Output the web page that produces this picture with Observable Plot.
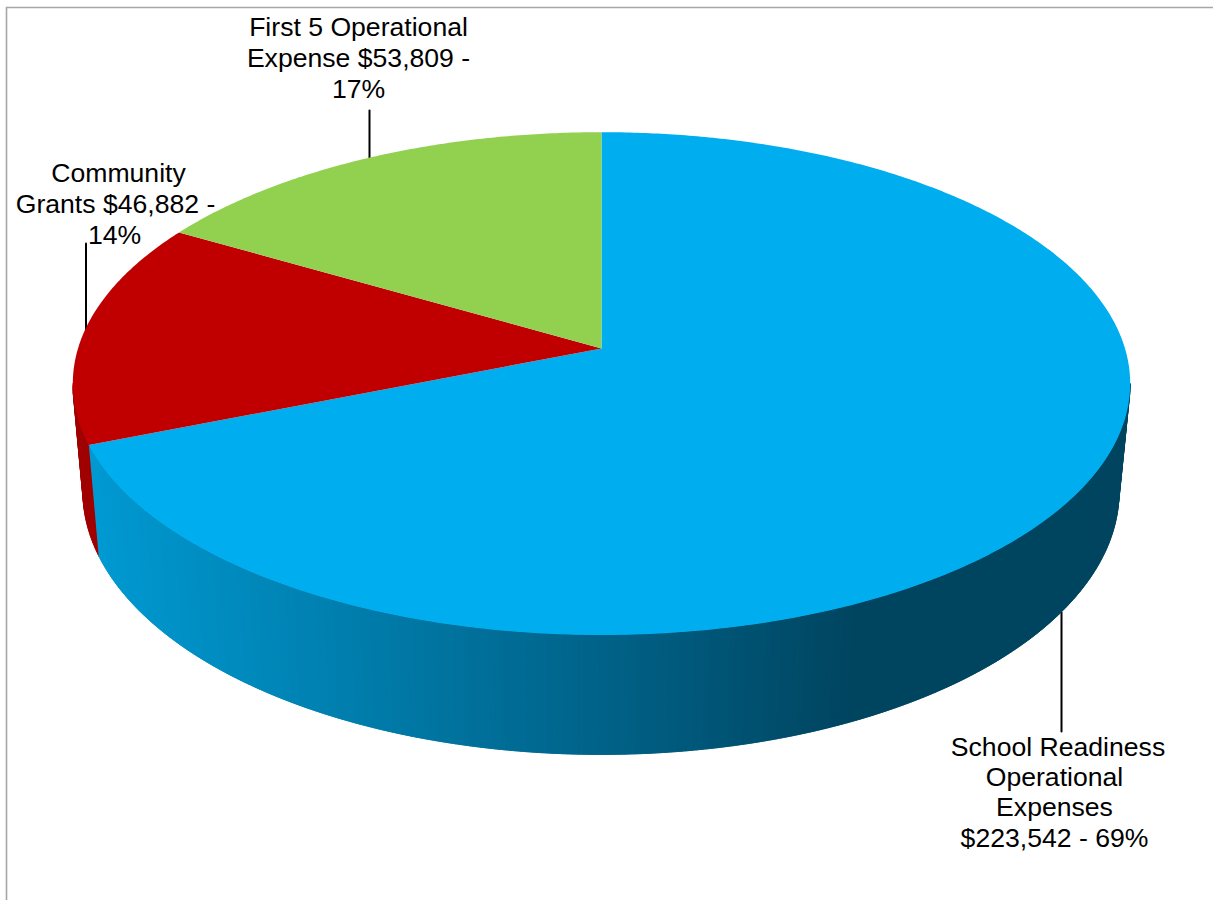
<!DOCTYPE html>
<html>
<head>
<meta charset="utf-8">
<script src="https://cdn.jsdelivr.net/npm/d3@7"></script>
<script src="https://cdn.jsdelivr.net/npm/@observablehq/plot@0.6"></script>
<style>html,body{margin:0;padding:0;background:#fff}svg{display:block}</style>
</head>
<body>
<div id="chart"></div>
<script>
// Data, clockwise from 12 o'clock
const categories = ["School Readiness Operational Expenses", "Community Grants", "First 5 Operational Expense"];
const values = [223542, 46882, 53809];
const topColors = ["#00aeef", "#c00000", "#92d050"];

// Label text
const labelLines = [
  ["First 5 Operational", 358, 27], ["Expense $53,809 -", 358, 58], ["17%", 358, 89],
  ["Community", 118, 173], ["Grants $46,882 -", 115, 204], ["14%", 114, 235],
  ["School Readiness", 1057.5, 747], ["Operational", 1054, 777], ["Expenses", 1054, 807], ["$223,542 - 69%", 1054, 838]
];
const leaders = [
  [[369, 110], [369, 158]],
  [[85.5, 243], [85.5, 329]],
  [[1061, 612], [1061, 731]]
];

// View geometry of the tilted disc
const cx = 601, apexY = 348, a = 523.5, b = 246.5, k = 0.1395;
const floorCx = 600.5, floorY = 454, floorSX = 0.98, floorSY = 1.047;
const rad = d => d * Math.PI / 180;
const rim = deg => {
  const u = Math.sin(rad(deg)), v = Math.cos(rad(deg)), w = 1 + k * v;
  return {x: cx + a * u / w, y: apexY - b * v / w};
};
const floor = deg => {
  const u = Math.sin(rad(deg)), v = Math.cos(rad(deg)), w = 1 + k * v;
  return {x: floorCx + floorSX * a * u / w, y: floorY - floorSY * b * v / w};
};

const total = d3.sum(values);
let acc = 0;
const slices = categories.map((name, i) => {
  const start = acc / total * 360;
  acc += values[i];
  return {name, start, end: acc / total * 360, color: topColors[i]};
});

// Top faces
const faces = slices.flatMap(s => {
  const pts = [{name: s.name, color: s.color, x: cx, y: apexY}];
  for (let t = s.start; t < s.end; t += 0.5) pts.push({name: s.name, color: s.color, ...rim(t)});
  pts.push({name: s.name, color: s.color, ...rim(s.end)});
  return pts;
});

// Wall shading
const wallShade = d3.scaleLinear()
  .domain([90, 600, 850])
  .range(["#009ad2", "#006288", "#004560"])
  .clamp(true);

function strip(id, t0, t1, color) {
  const r0 = rim(t0), r1 = rim(t1), f1 = floor(t1), f0 = floor(t0);
  const c = color ?? wallShade((r0.x + f0.x) / 2);
  return [r0, r1, f1, f0].map(p => ({id, color: c, ...p}));
}
const walls = [];
const blue = slices[0];
let n = 0;
// Silhouette tangents sit where cos(theta) = -k
const tangent = Math.acos(-k) * 180 / Math.PI;
// red wall, from the left tangent to the blue boundary
for (let t = 360 - tangent; t > blue.end; t -= 0.5)
  walls.push(...strip(n++, t, Math.max(t - 1, blue.end - 0.2), "#a00000"));
// blue wall, left to right tangent
for (let t = blue.end; t > tangent; t -= 0.5)
  walls.push(...strip(n++, t, Math.max(t - 1, tangent)));

const W = 1213, H = 900;
const plot = Plot.plot({
  width: W, height: H,
  margin: 0,
  x: {domain: [0, W], range: [0, W], axis: null},
  y: {domain: [0, H], range: [0, H], axis: null},
  color: {type: "identity"},
  style: {background: "#fff"},
  marks: [
    Plot.ruleX([6], {stroke: "#a6a6a6", strokeWidth: 1.6, y1: 7, y2: H}),
    Plot.ruleY([7], {stroke: "#a6a6a6", strokeWidth: 1.6, x1: 6, x2: W}),
    ...leaders.map(l => Plot.line(l, {x: d => d[0], y: d => d[1], stroke: "#000", strokeWidth: 2})),
    Plot.line(walls, {x: "x", y: "y", z: "id", fill: "color", stroke: "color", strokeWidth: 0.7}),
    Plot.line(faces, {x: "x", y: "y", z: "name", fill: "color", stroke: "none"}),
    Plot.text(labelLines, {
      x: d => d[1], y: d => d[2], text: d => d[0],
      fill: "#000", fontSize: 26.6, fontFamily: "Liberation Sans, Arial, sans-serif", textAnchor: "middle"
    })
  ]
});
document.getElementById("chart").append(plot);
</script>
</body>
</html>
